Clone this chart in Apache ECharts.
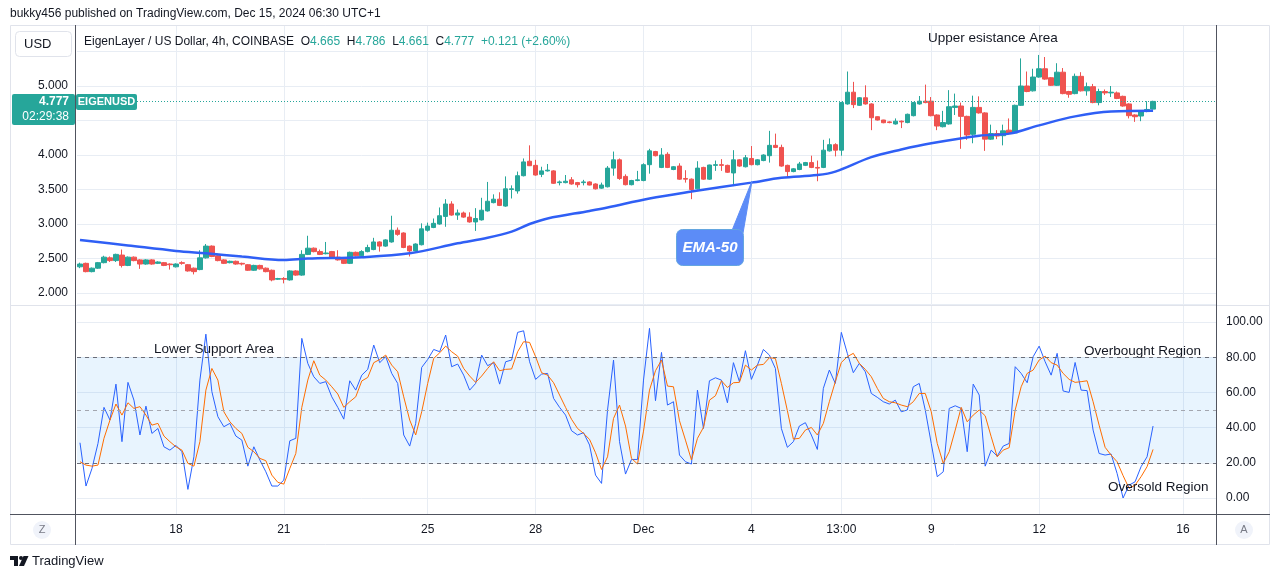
<!DOCTYPE html>
<html>
<head>
<meta charset="utf-8">
<title>EIGENUSD 4h</title>
<script src="https://cdn.jsdelivr.net/npm/echarts@6.0.0/dist/echarts.min.js"></script>
<style>
  html, body { margin: 0; padding: 0; background: #fff; }
  #chart { width: 1281px; height: 579px; }
</style>
</head>
<body>
<div id="chart"></div>
<script>
const FONT = '"Liberation Sans", Arial, sans-serif'
const UP = '#26a69a'
const DOWN = '#ef5350'
const GRID = '#e8edf4'
const TEXT = '#131722'
const BORDER = '#50535e'

// time axis: 4h bars, axis runs a few bars past the last candle
const barCount = 190
const categories = Array.from({ length: barCount }, (_, i) => 'bar' + i)
const tickIdx = [16, 34, 58, 76, 94, 112, 127, 142, 160, 184]
const tickText = ['18', '21', '25', '28', 'Dec', '4', '13:00', '9', '12', '16']

// candles: [open, close, low, high]
const candles = [
  [2.38, 2.42, 2.36, 2.44], [2.43, 2.31, 2.30, 2.44], [2.31, 2.36, 2.30, 2.37], [2.36, 2.44, 2.35, 2.45],
  [2.44, 2.52, 2.43, 2.54], [2.51, 2.47, 2.45, 2.53], [2.47, 2.56, 2.45, 2.57], [2.55, 2.40, 2.37, 2.63],
  [2.40, 2.52, 2.39, 2.53], [2.52, 2.47, 2.46, 2.53], [2.48, 2.42, 2.35, 2.49], [2.42, 2.48, 2.41, 2.49],
  [2.48, 2.42, 2.41, 2.49], [2.43, 2.45, 2.42, 2.46], [2.44, 2.40, 2.39, 2.45], [2.42, 2.41, 2.34, 2.43],
  [2.38, 2.42, 2.37, 2.43], [2.44, 2.43, 2.41, 2.46], [2.41, 2.32, 2.31, 2.42], [2.36, 2.31, 2.27, 2.37],
  [2.34, 2.51, 2.33, 2.62], [2.51, 2.68, 2.50, 2.71], [2.68, 2.53, 2.52, 2.69], [2.54, 2.47, 2.46, 2.57],
  [2.48, 2.43, 2.42, 2.49], [2.44, 2.46, 2.43, 2.47], [2.46, 2.42, 2.41, 2.47], [2.43, 2.42, 2.40, 2.44],
  [2.41, 2.33, 2.32, 2.42], [2.33, 2.40, 2.32, 2.41], [2.40, 2.35, 2.34, 2.41], [2.36, 2.31, 2.30, 2.37],
  [2.33, 2.19, 2.17, 2.34], [2.20, 2.21, 2.19, 2.22], [2.21, 2.20, 2.14, 2.23], [2.19, 2.32, 2.18, 2.33],
  [2.32, 2.26, 2.25, 2.33], [2.26, 2.56, 2.25, 2.62], [2.56, 2.65, 2.55, 2.83], [2.65, 2.60, 2.59, 2.66],
  [2.60, 2.56, 2.55, 2.63], [2.57, 2.58, 2.56, 2.74], [2.60, 2.52, 2.51, 2.61], [2.52, 2.48, 2.47, 2.62],
  [2.49, 2.43, 2.42, 2.50], [2.43, 2.59, 2.42, 2.60], [2.59, 2.54, 2.53, 2.60], [2.54, 2.60, 2.53, 2.62],
  [2.60, 2.66, 2.59, 2.70], [2.63, 2.74, 2.62, 2.80], [2.74, 2.68, 2.60, 2.75], [2.68, 2.77, 2.67, 2.78],
  [2.74, 2.91, 2.73, 3.12], [2.91, 2.85, 2.83, 2.95], [2.87, 2.66, 2.65, 2.88], [2.68, 2.61, 2.53, 2.69],
  [2.61, 2.71, 2.60, 2.72], [2.70, 2.93, 2.69, 3.01], [2.91, 2.97, 2.89, 3.02], [2.95, 3.01, 2.94, 3.08],
  [3.00, 3.12, 2.99, 3.24], [3.11, 3.29, 2.96, 3.36], [3.29, 3.13, 3.12, 3.33], [3.13, 3.16, 3.06, 3.21],
  [3.16, 3.10, 3.09, 3.18], [3.10, 3.03, 3.02, 3.17], [3.03, 3.08, 2.90, 3.23], [3.06, 3.20, 3.05, 3.38],
  [3.19, 3.33, 3.18, 3.61], [3.31, 3.36, 3.30, 3.43], [3.36, 3.27, 3.26, 3.46], [3.26, 3.51, 3.25, 3.69],
  [3.50, 3.51, 3.37, 3.56], [3.48, 3.70, 3.44, 3.76], [3.70, 3.90, 3.69, 3.95], [3.91, 3.845, 3.84, 4.14],
  [3.85, 3.71, 3.70, 3.93], [3.72, 3.77, 3.68, 3.83], [3.77, 3.78, 3.76, 3.87], [3.77, 3.59, 3.58, 3.78],
  [3.60, 3.61, 3.56, 3.63], [3.60, 3.62, 3.59, 3.71], [3.64, 3.58, 3.57, 3.68], [3.60, 3.57, 3.53, 3.61],
  [3.60, 3.61, 3.56, 3.64], [3.61, 3.565, 3.56, 3.62], [3.58, 3.51, 3.50, 3.59], [3.52, 3.565, 3.51, 3.60],
  [3.54, 3.81, 3.53, 3.84], [3.81, 3.93, 3.70, 4.05], [3.93, 3.66, 3.64, 3.95], [3.69, 3.57, 3.56, 3.72],
  [3.57, 3.63, 3.56, 3.64], [3.63, 3.64, 3.62, 3.77], [3.63, 3.86, 3.62, 3.88], [3.86, 4.06, 3.73, 4.09],
  [4.05, 3.99, 3.98, 4.06], [3.82, 4.00, 3.81, 4.10], [4.01, 3.82, 3.81, 4.04], [3.79, 3.83, 3.78, 3.84],
  [3.84, 3.65, 3.64, 3.88], [3.66, 3.65, 3.60, 3.78], [3.65, 3.50, 3.36, 3.66], [3.51, 3.81, 3.50, 3.91],
  [3.82, 3.65, 3.64, 3.83], [3.65, 3.855, 3.64, 3.86], [3.85, 3.86, 3.77, 3.92], [3.86, 3.85, 3.77, 3.94],
  [3.85, 3.75, 3.74, 3.86], [3.74, 3.93, 3.55, 4.07], [3.93, 3.84, 3.83, 3.94], [3.83, 3.96, 3.82, 4.00],
  [3.95, 3.86, 3.85, 4.13], [3.86, 3.93, 3.85, 3.94], [3.92, 4.00, 3.91, 4.01], [3.99, 4.14, 3.89, 4.35],
  [4.14, 4.11, 4.10, 4.31], [4.11, 3.84, 3.83, 4.15], [3.85, 3.76, 3.68, 3.86], [3.76, 3.80, 3.75, 3.81],
  [3.79, 3.87, 3.78, 3.90], [3.85, 3.89, 3.84, 3.90], [3.89, 3.82, 3.81, 3.99], [3.82, 3.81, 3.62, 3.92],
  [3.82, 4.07, 3.81, 4.22], [4.06, 4.15, 4.05, 4.24], [4.15, 4.07, 3.98, 4.17], [4.07, 4.76, 3.99, 4.77],
  [4.74, 4.91, 4.73, 5.21], [4.91, 4.73, 4.68, 5.06], [4.72, 4.83, 4.71, 4.84], [4.83, 4.74, 4.73, 5.01],
  [4.74, 4.54, 4.36, 4.75], [4.555, 4.507, 4.50, 4.56], [4.507, 4.468, 4.46, 4.51], [4.48, 4.47, 4.46, 4.49],
  [4.45, 4.49, 4.44, 4.53], [4.49, 4.48, 4.39, 4.50], [4.47, 4.59, 4.46, 4.60], [4.57, 4.76, 4.56, 4.77],
  [4.74, 4.78, 4.73, 4.855], [4.78, 4.76, 4.75, 5.02], [4.78, 4.57, 4.56, 4.84], [4.58, 4.42, 4.36, 4.59],
  [4.41, 4.47, 4.40, 4.64], [4.45, 4.70, 4.44, 4.94], [4.69, 4.71, 4.58, 4.89], [4.71, 4.56, 4.09, 4.76],
  [4.56, 4.29, 4.22, 4.57], [4.30, 4.69, 4.17, 4.86], [4.69, 4.61, 4.60, 4.85], [4.61, 4.23, 4.06, 4.62],
  [4.23, 4.31, 4.22, 4.44], [4.31, 4.275, 4.23, 4.36], [4.28, 4.35, 4.14, 4.44], [4.36, 4.31, 4.30, 4.53],
  [4.32, 4.72, 4.31, 4.73], [4.72, 5.00, 4.71, 5.40], [5.00, 4.92, 4.91, 5.21], [4.93, 5.13, 4.92, 5.25],
  [5.13, 5.25, 5.12, 5.45], [5.25, 5.10, 5.09, 5.42], [5.12, 5.01, 5.00, 5.13], [5.01, 5.20, 5.00, 5.33],
  [5.20, 4.89, 4.88, 5.26], [4.92, 4.88, 4.83, 4.93], [4.89, 5.14, 4.88, 5.18], [5.14, 4.93, 4.92, 5.20],
  [4.93, 4.99, 4.86, 5.05], [4.99, 4.76, 4.75, 5.03], [4.76, 4.92, 4.72, 4.96], [4.92, 4.90, 4.87, 4.95],
  [4.90, 4.91, 4.84, 5.00], [4.90, 4.82, 4.81, 4.92], [4.85, 4.71, 4.70, 4.86], [4.74, 4.57, 4.53, 4.75],
  [4.58, 4.555, 4.48, 4.59], [4.565, 4.64, 4.49, 4.65], [4.63, 4.66, 4.62, 4.78], [4.665, 4.777, 4.661, 4.786]
]

// EMA-50 at a few bars: [bar index, value]
const emaPoints = [
  [0, 2.77], [8, 2.69], [16, 2.61], [21, 2.575], [27, 2.53], [34, 2.48], [38, 2.50], [47, 2.52],
  [55, 2.575], [63, 2.72], [68, 2.80], [72, 2.89], [75, 3.00], [78, 3.08], [85, 3.19], [88, 3.24],
  [95, 3.37], [102, 3.47], [112, 3.60], [117, 3.67], [123, 3.71], [126, 3.76], [132, 3.97], [137, 4.08],
  [142, 4.17], [150, 4.28], [155, 4.31], [160, 4.43], [166, 4.56], [172, 4.63], [179, 4.64]
]

// Stochastic RSI %K (blue) and %D (orange)
const stochK = [
  31.4, 6.8, 16.8, 31.0, 51.5, 44.3, 64.7, 32.0, 65.7, 55.6,
  35.8, 52.2, 36.7, 39.5, 29.1, 27.2, 29.9, 26.3, 4.9, 23.4,
  67.0, 93.1, 60.4, 46.2, 40.5, 42.4, 35.2, 32.9, 18.1, 29.1,
  21.6, 14.9, 6.8, 6.8, 10.2, 32.5, 33.9, 90.7, 76.5, 68.9,
  65.1, 66.1, 57.5, 51.5, 44.8, 66.6, 61.3, 69.8, 73.1, 86.9,
  76.9, 80.3, 70.8, 65.1, 35.8, 29.5, 42.4, 74.2, 78.7, 84.4,
  83.1, 92.6, 74.6, 76.1, 69.8, 61.3, 65.1, 81.2, 75.2, 76.9,
  64.7, 77.4, 78.4, 94.1, 95.0, 77.4, 67.4, 70.4, 70.8, 56.6,
  51.5, 47.1, 38.2, 35.8, 37.1, 30.1, 13.0, 8.3, 50.0, 78.4,
  32.0, 13.6, 21.9, 21.9, 67.0, 96.4, 55.3, 82.7, 52.8, 54.7,
  24.4, 20.6, 19.3, 61.3, 39.5, 66.6, 68.3, 67.0, 54.1, 76.9,
  66.1, 83.7, 67.4, 75.5, 84.4, 81.2, 73.6, 39.5, 28.8, 32.0,
  40.9, 42.8, 35.8, 27.6, 62.3, 72.7, 65.1, 94.1, 82.2, 71.2,
  76.5, 71.7, 59.4, 57.2, 54.7, 53.4, 55.6, 49.0, 50.0, 63.2,
  65.1, 50.0, 31.0, 12.1, 14.9, 50.9, 52.4, 50.9, 26.3, 64.7,
  58.5, 18.1, 27.2, 23.8, 29.5, 31.0, 74.6, 70.8, 65.5, 80.3,
  86.3, 77.4, 69.8, 82.2, 60.8, 60.0, 77.0, 61.3, 61.0, 38.6,
  25.3, 24.4, 25.0, 14.0, 0.0, 7.3, 9.2, 17.8, 23.4, 40.9
]
const stochD = [
  20.6, 18.7, 18.1, 18.7, 33.9, 44.3, 53.4, 47.1, 54.1, 50.9,
  51.9, 47.1, 41.4, 42.4, 35.2, 32.0, 29.1, 27.2, 19.7, 18.1,
  32.0, 61.3, 73.6, 67.0, 49.0, 43.3, 39.5, 36.7, 28.8, 26.3,
  22.5, 21.2, 13.0, 8.9, 7.9, 16.8, 25.3, 51.5, 67.0, 78.0,
  69.8, 67.0, 63.2, 59.1, 51.5, 54.7, 57.5, 66.5, 68.5, 76.9,
  78.7, 81.2, 75.5, 71.7, 57.5, 44.3, 35.8, 49.0, 65.1, 79.3,
  82.5, 86.3, 83.1, 80.6, 73.6, 69.3, 65.7, 69.3, 73.6, 77.4,
  72.3, 73.1, 73.3, 83.1, 88.8, 88.4, 80.3, 71.2, 69.8, 65.5,
  58.5, 51.5, 44.7, 39.5, 36.7, 33.3, 25.7, 16.2, 23.4, 45.2,
  52.8, 40.9, 22.5, 19.3, 38.0, 61.3, 72.3, 78.4, 63.6, 63.2,
  43.9, 32.9, 21.6, 33.9, 40.1, 55.6, 58.1, 66.6, 62.8, 65.5,
  65.7, 75.5, 72.7, 75.5, 75.9, 79.7, 79.3, 65.1, 49.6, 33.5,
  33.9, 38.6, 40.1, 35.8, 42.4, 54.7, 66.1, 77.0, 80.3, 82.2,
  76.5, 73.1, 68.9, 62.3, 56.6, 54.7, 54.1, 52.8, 51.9, 54.7,
  59.4, 59.4, 49.0, 31.0, 19.7, 26.3, 38.6, 51.5, 43.3, 47.1,
  50.0, 46.7, 34.8, 23.4, 27.2, 28.6, 50.0, 63.2, 70.8, 72.7,
  78.4, 80.6, 76.9, 75.5, 70.8, 67.4, 65.7, 66.1, 66.6, 54.7,
  41.4, 28.8, 24.4, 20.6, 12.7, 5.5, 7.3, 12.1, 17.8, 27.6
]
const stochLevels = [80, 50, 20]

const last = candles[candles.length - 1]
const fmt3 = v => v.toFixed(3)

const isTick = (idx) => tickIdx.indexOf(idx) > -1

function txt(x, y, text, size, color, extra, z) {
  return {
    type: 'text', x, y, z: z || 100, silent: true,
    style: Object.assign({ text, font: size + 'px ' + FONT, fill: color, align: 'left', verticalAlign: 'middle' }, extra || {})
  }
}

const chart = echarts.init(document.getElementById('chart'), null, { renderer: 'canvas' })

const option = {
  animation: false,
  backgroundColor: '#fff',
  textStyle: { fontFamily: FONT },
  grid: [
    { left: 77, right: 65, top: 25, height: 279 },
    { left: 77, right: 65, top: 305, height: 209 }
  ],
  xAxis: [
    {
      type: 'category', gridIndex: 0, data: categories, boundaryGap: true,
      axisLine: { show: false }, axisTick: { show: false }, axisLabel: { show: false },
      splitLine: { show: true, interval: isTick, alignWithLabel: true, lineStyle: { color: GRID } }
    },
    {
      type: 'category', gridIndex: 1, data: categories, boundaryGap: true,
      axisLine: { show: false }, axisTick: { show: false },
      axisLabel: {
        show: true, interval: isTick, color: TEXT, fontSize: 12, margin: 10,
        formatter: (v, idx) => tickText[tickIdx.indexOf(idx)] || ''
      },
      splitLine: { show: true, interval: isTick, alignWithLabel: true, lineStyle: { color: GRID } }
    }
  ],
  yAxis: [
    {
      type: 'value', gridIndex: 0, position: 'left', min: 1.841, max: 5.884, splitNumber: 8,
      axisLine: { show: false }, axisTick: { show: false },
      axisLabel: {
        color: TEXT, fontSize: 12, margin: 9, showMinLabel: false, showMaxLabel: false,
        formatter: v => (Math.abs(v - 4.5) < 1e-6 || Math.abs(v - 5.5) < 1e-6) ? '' : fmt3(v)
      },
      splitLine: { lineStyle: { color: GRID } }
    },
    {
      type: 'value', gridIndex: 1, position: 'right', min: -9.09, max: 109.66, splitNumber: 6,
      axisLine: { show: false }, axisTick: { show: false },
      axisLabel: {
        color: TEXT, fontSize: 12, margin: 10, showMinLabel: false, showMaxLabel: false,
        formatter: v => v.toFixed(2)
      },
      splitLine: { lineStyle: { color: GRID } }
    }
  ],
  series: [
    {
      type: 'candlestick', xAxisIndex: 0, yAxisIndex: 0, data: candles, barWidth: 5,
      itemStyle: { color: UP, color0: DOWN, borderColor: UP, borderColor0: DOWN, borderWidth: 1 },
      markLine: {
        silent: true, symbol: 'none', label: { show: false },
        lineStyle: { color: UP, type: [1, 2], width: 1 },
        data: [{ yAxis: last[1] }]
      }
    },
    {
      name: 'EMA-50', type: 'line', xAxisIndex: 0, yAxisIndex: 0, data: emaPoints,
      smooth: 0.35, connectNulls: true, showSymbol: false, silent: true,
      lineStyle: { color: '#2f5ff5', width: 2.5 }
    },
    {
      name: 'K', type: 'line', xAxisIndex: 1, yAxisIndex: 1, data: stochK,
      showSymbol: false, silent: true, lineStyle: { color: '#2962ff', width: 1 }
    },
    {
      name: 'D', type: 'line', xAxisIndex: 1, yAxisIndex: 1, data: stochD,
      showSymbol: false, silent: true, lineStyle: { color: '#ff6d00', width: 1 },
      markArea: {
        silent: true,
        itemStyle: { color: 'rgba(33,150,243,0.1)' },
        data: [[{ yAxis: stochLevels[2] }, { yAxis: stochLevels[0] }]]
      },
      markLine: {
        silent: true, symbol: 'none', label: { show: false },
        data: stochLevels.map(v => ({
          yAxis: v,
          lineStyle: { color: v === 50 ? '#a3a6af' : '#6a6d78', type: [4, 4], width: 1 }
        }))
      }
    }
  ],
  graphic: [
    // frame and pane borders
    { type: 'rect', z: 90, silent: true, shape: { x: 10.5, y: 25.5, width: 1259, height: 519 }, style: { fill: 'none', stroke: '#e0e3eb' } },
    { type: 'line', z: 90, silent: true, shape: { x1: 10, y1: 305.5, x2: 1270, y2: 305.5 }, style: { stroke: '#e0e3eb' } },
    { type: 'line', z: 90, silent: true, shape: { x1: 10, y1: 514.5, x2: 1270, y2: 514.5 }, style: { stroke: BORDER } },
    { type: 'line', z: 90, silent: true, shape: { x1: 75.5, y1: 25, x2: 75.5, y2: 545 }, style: { stroke: BORDER } },
    { type: 'line', z: 90, silent: true, shape: { x1: 1216.5, y1: 25, x2: 1216.5, y2: 545 }, style: { stroke: BORDER } },

    // header
    txt(10, 14, 'bukky456 published on TradingView.com, Dec 15, 2024 06:30 UTC+1', 12, TEXT),
    { type: 'rect', z: 100, silent: true, shape: { x: 15.5, y: 31.5, width: 56, height: 25, r: 4 }, style: { fill: '#fff', stroke: '#e0e3eb' } },
    txt(24, 44, 'USD', 13, TEXT, null, 101),
    {
      type: 'text', x: 84, y: 42, z: 100, silent: true,
      style: {
        text: 'EigenLayer / US Dollar, 4h, COINBASE  O{v|' + fmt3(last[0]) + '}  H{v|' + fmt3(last[3]) +
          '}  L{v|' + fmt3(last[2]) + '}  C{v|' + fmt3(last[1]) + '}  {v|+0.121 (+2.60%)}',
        font: '12px ' + FONT, fill: TEXT, align: 'left', verticalAlign: 'middle',
        rich: { v: { fill: UP, font: '12px ' + FONT } }
      }
    },

    // last price labels
    { type: 'rect', z: 100, silent: true, shape: { x: 12, y: 94, width: 63, height: 31, r: 2 }, style: { fill: UP } },
    txt(69, 102, fmt3(last[1]), 12, '#fff', { align: 'right', font: 'bold 12px ' + FONT }, 101),
    txt(69, 117, '02:29:38', 12, '#fff', { align: 'right' }, 101),
    { type: 'rect', z: 100, silent: true, shape: { x: 76, y: 94, width: 61, height: 16, r: 2 }, style: { fill: UP } },
    txt(106.5, 102, 'EIGENUSD', 11, '#fff', { align: 'center', font: 'bold 11px ' + FONT }, 101),

    // annotations
    txt(928, 38, 'Upper esistance Area', 13.5, TEXT),
    txt(154, 349, 'Lower Support Area', 13.5, TEXT),
    txt(1084, 351, 'Overbought Region', 13.5, TEXT),
    txt(1108, 487, 'Oversold Region', 13.5, TEXT),

    // EMA-50 callout
    { type: 'polygon', z: 100, silent: true, shape: { points: [[731, 233], [743, 233], [752, 181]] }, style: { fill: '#5c8cf7', stroke: '#5c8cf7' } },
    { type: 'rect', z: 101, silent: true, shape: { x: 676.5, y: 229.5, width: 67, height: 36, r: 6 }, style: { fill: '#5c8cf7', stroke: '#64a6e0', lineWidth: 1 } },
    txt(710, 248, 'EMA-50', 15, '#fff', { align: 'center', font: 'italic bold 15px ' + FONT }, 102),

    // time axis buttons
    { type: 'circle', z: 100, silent: true, shape: { cx: 42, cy: 530, r: 9 }, style: { fill: '#f0f3fa' } },
    txt(42, 530, 'Z', 11, '#787b86', { align: 'center' }, 101),
    { type: 'circle', z: 100, silent: true, shape: { cx: 1244, cy: 530, r: 9 }, style: { fill: '#f0f3fa' } },
    txt(1244, 530, 'A', 11, '#787b86', { align: 'center' }, 101),

    // TradingView logo
    { type: 'rect', z: 100, silent: true, shape: { x: 10, y: 556, width: 8, height: 4 }, style: { fill: TEXT } },
    { type: 'rect', z: 100, silent: true, shape: { x: 14, y: 556, width: 4, height: 10 }, style: { fill: TEXT } },
    { type: 'circle', z: 100, silent: true, shape: { cx: 21, cy: 558, r: 2 }, style: { fill: TEXT } },
    { type: 'polygon', z: 100, silent: true, shape: { points: [[23.5, 556], [28.5, 556], [24, 566], [19, 566]] }, style: { fill: TEXT } },
    txt(32, 561, 'TradingView', 13, TEXT)
  ]
}

chart.setOption(option)
</script>
</body>
</html>
